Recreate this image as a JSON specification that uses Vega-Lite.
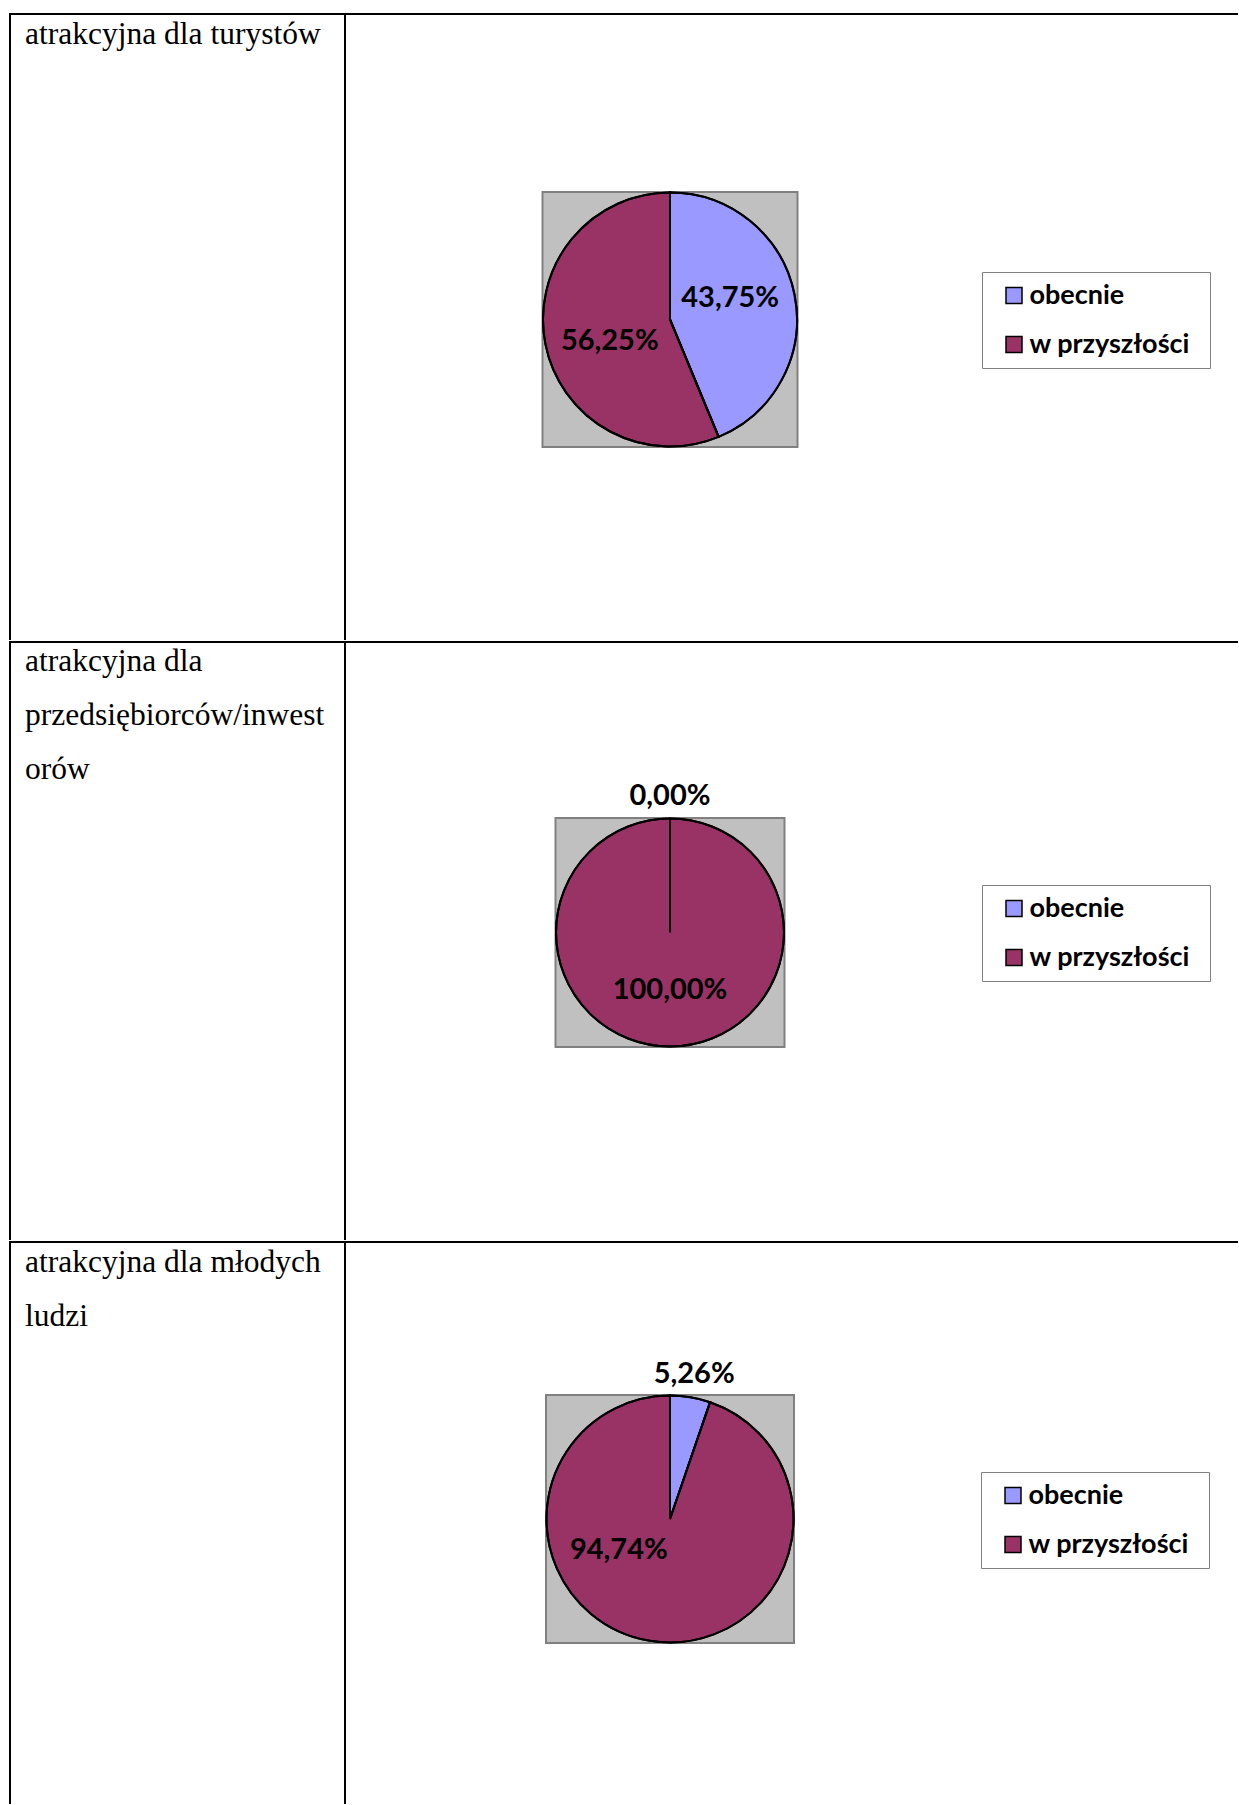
{
  "$schema": "https://vega.github.io/schema/vega-lite/v6.json",
  "padding": {"left": 9, "top": 13, "right": 0, "bottom": 0},
  "background": "white",
  "spacing": 0,
  "resolve": {"scale": {"color": "independent", "theta": "independent"}, "legend": {"color": "independent"}},
  "config": {
    "view": {"stroke": "black", "strokeWidth": 2},
    "concat": {"spacing": 0},
    "locale": {"number": {"decimal": ",", "thousands": " ", "grouping": [3], "currency": ["", " zł"]}},
    "legend": {
      "orient": "none",
      "padding": 10,
      "symbolType": "square",
      "symbolSize": 256,
      "symbolStrokeColor": "black",
      "symbolStrokeWidth": 1.5,
      "symbolOpacity": 1,
      "symbolOffset": 8.5,
      "labelOffset": 2,
      "labelFont": "Lato",
      "labelFontWeight": "bold",
      "labelFontSize": 27,
      "labelColor": "black",
      "labelLimit": 400,
      "rowPadding": 21,
      "strokeColor": "#808080",
      "fillColor": "white",
      "titleOrient": "right",
      "titlePadding": 10,
      "titleFontSize": 26
    }
  },
  "datasets": {
    "turysci": [
      {"status": "obecnie", "value": 0.4375},
      {"status": "w przyszłości", "value": 0.5625}
    ],
    "inwestorzy": [
      {"status": "obecnie", "value": 0},
      {"status": "w przyszłości", "value": 1}
    ],
    "mlodzi": [
      {"status": "obecnie", "value": 0.0526},
      {"status": "w przyszłości", "value": 0.9474}
    ]
  },
  "vconcat": [
    {
      "bounds": "flush",
      "spacing": 0,
      "resolve": {"scale": {"color": "independent", "theta": "independent"}, "legend": {"color": "independent"}},
      "hconcat": [
        {
          "width": 335,
          "height": 626,
          "view": {"stroke": "black", "strokeWidth": 2, "strokeDash": [961, 335, 626]},
          "data": {"values": [{"tekst": "atrakcyjna dla turystów"}]},
          "mark": {"type": "text", "align": "left", "baseline": "alphabetic", "font": "Liberation Serif", "fontSize": 31.5, "lineBreak": "\n", "lineHeight": 54, "color": "black"},
          "encoding": {"text": {"field": "tekst", "type": "nominal"}, "x": {"value": 15}, "y": {"value": 29.5}}
        },
        {
          "width": 650,
          "height": 611,
          "view": {"stroke": "black", "strokeWidth": 2, "strokeDash": [650, 5000]},
          "data": {"name": "turysci"},
          "layer": [
            {
              "data": {"values": [{"ramka": "obszar"}]},
              "mark": {"type": "point", "shape": "square", "size": 65025, "filled": true, "fill": "#C0C0C0", "stroke": "#808080", "strokeWidth": 2, "opacity": 1}
            },
            {
              "mark": {"type": "arc", "outerRadius": 127, "stroke": "black", "strokeWidth": 2},
              "encoding": {
                "theta": {"field": "value", "type": "quantitative", "stack": true},
                "color": {
                  "field": "status", "type": "nominal",
                  "scale": {"domain": ["obecnie", "w przyszłości"], "range": ["#9999FF", "#993366"]},
                  "legend": {"title": " ", "legendX": 637, "legendY": 258}
                }
              }
            },
            {
              "mark": {"type": "arc", "outerRadius": 127, "filled": false, "color": "black", "strokeWidth": 2},
              "encoding": {
                "theta": {"field": "value", "type": "quantitative", "stack": true},
                "detail": {"field": "status", "type": "nominal"}
              }
            },
            {
              "mark": {"type": "text", "radius": 64, "thetaOffset": -0.15, "font": "Lato", "fontWeight": "bold", "fontSize": 29, "color": "black", "align": "center", "baseline": "middle"},
              "encoding": {
                "theta": {"field": "value", "type": "quantitative", "stack": true},
                "detail": {"field": "status", "type": "nominal"},
                "text": {"condition": {"test": "datum.value < 0.1", "value": ""}, "field": "value", "type": "quantitative", "format": ".2%"}
              }
            },
            {
              "mark": {"type": "text", "radius": 150, "font": "Lato", "fontWeight": "bold", "fontSize": 29, "color": "black", "align": "center", "baseline": "middle"},
              "encoding": {
                "theta": {"field": "value", "type": "quantitative", "stack": true},
                "detail": {"field": "status", "type": "nominal"},
                "text": {"condition": {"test": "datum.value >= 0.1", "value": ""}, "field": "value", "type": "quantitative", "format": ".2%"}
              }
            }
          ]
        },
        {
          "width": 243,
          "height": 626,
          "view": {"stroke": "black", "strokeWidth": 2, "strokeDash": [243, 5000]},
          "data": {"values": []},
          "mark": "point"
        }
      ]
    },
    {
      "bounds": "flush",
      "spacing": 0,
      "resolve": {"scale": {"color": "independent", "theta": "independent"}, "legend": {"color": "independent"}},
      "hconcat": [
        {
          "width": 335,
          "height": 598,
          "view": {"stroke": "black", "strokeWidth": 2, "strokeDash": [933, 335, 598]},
          "data": {"values": [{"tekst": "atrakcyjna dla\nprzedsiębiorców/inwest\norów"}]},
          "mark": {"type": "text", "align": "left", "baseline": "alphabetic", "font": "Liberation Serif", "fontSize": 31.5, "lineBreak": "\n", "lineHeight": 54, "color": "black"},
          "encoding": {"text": {"field": "tekst", "type": "nominal"}, "x": {"value": 15}, "y": {"value": 29}}
        },
        {
          "width": 650,
          "height": 581,
          "view": {"stroke": "black", "strokeWidth": 2, "strokeDash": [650, 5000]},
          "data": {"name": "inwestorzy"},
          "layer": [
            {
              "data": {"values": [{"ramka": "obszar"}]},
              "mark": {"type": "point", "shape": "square", "size": 52441, "filled": true, "fill": "#C0C0C0", "stroke": "#808080", "strokeWidth": 2, "opacity": 1}
            },
            {
              "mark": {"type": "arc", "outerRadius": 114, "stroke": "black", "strokeWidth": 2},
              "encoding": {
                "theta": {"field": "value", "type": "quantitative", "stack": true},
                "color": {
                  "field": "status", "type": "nominal",
                  "scale": {"domain": ["obecnie", "w przyszłości"], "range": ["#9999FF", "#993366"]},
                  "legend": {"title": " ", "legendX": 637, "legendY": 243}
                }
              }
            },
            {
              "mark": {"type": "arc", "outerRadius": 114, "filled": false, "color": "black", "strokeWidth": 2},
              "encoding": {
                "theta": {"field": "value", "type": "quantitative", "stack": true},
                "detail": {"field": "status", "type": "nominal"}
              }
            },
            {
              "mark": {"type": "text", "radius": 57, "font": "Lato", "fontWeight": "bold", "fontSize": 29, "color": "black", "align": "center", "baseline": "middle"},
              "encoding": {
                "theta": {"field": "value", "type": "quantitative", "stack": true},
                "detail": {"field": "status", "type": "nominal"},
                "text": {"condition": {"test": "datum.value < 0.1", "value": ""}, "field": "value", "type": "quantitative", "format": ".2%"}
              }
            },
            {
              "mark": {"type": "text", "radius": 137, "font": "Lato", "fontWeight": "bold", "fontSize": 29, "color": "black", "align": "center", "baseline": "middle"},
              "encoding": {
                "theta": {"field": "value", "type": "quantitative", "stack": true},
                "detail": {"field": "status", "type": "nominal"},
                "text": {"condition": {"test": "datum.value >= 0.1", "value": ""}, "field": "value", "type": "quantitative", "format": ".2%"}
              }
            }
          ]
        },
        {
          "width": 243,
          "height": 598,
          "view": {"stroke": "black", "strokeWidth": 2, "strokeDash": [243, 5000]},
          "data": {"values": []},
          "mark": "point"
        }
      ]
    },
    {
      "bounds": "flush",
      "spacing": 0,
      "resolve": {"scale": {"color": "independent", "theta": "independent"}, "legend": {"color": "independent"}},
      "hconcat": [
        {
          "width": 335,
          "height": 562,
          "view": {"stroke": "black", "strokeWidth": 2, "strokeDash": [897, 335, 562]},
          "data": {"values": [{"tekst": "atrakcyjna dla młodych\nludzi"}]},
          "mark": {"type": "text", "align": "left", "baseline": "alphabetic", "font": "Liberation Serif", "fontSize": 31.5, "lineBreak": "\n", "lineHeight": 54, "color": "black"},
          "encoding": {"text": {"field": "tekst", "type": "nominal"}, "x": {"value": 15}, "y": {"value": 30}}
        },
        {
          "width": 650,
          "height": 554,
          "view": {"stroke": "black", "strokeWidth": 2, "strokeDash": [650, 5000]},
          "data": {"name": "mlodzi"},
          "layer": [
            {
              "data": {"values": [{"ramka": "obszar"}]},
              "mark": {"type": "point", "shape": "square", "size": 61504, "filled": true, "fill": "#C0C0C0", "stroke": "#808080", "strokeWidth": 2, "opacity": 1}
            },
            {
              "mark": {"type": "arc", "outerRadius": 123.5, "stroke": "black", "strokeWidth": 2},
              "encoding": {
                "theta": {"field": "value", "type": "quantitative", "stack": true},
                "color": {
                  "field": "status", "type": "nominal",
                  "scale": {"domain": ["obecnie", "w przyszłości"], "range": ["#9999FF", "#993366"]},
                  "legend": {"title": " ", "legendX": 636, "legendY": 230}
                }
              }
            },
            {
              "mark": {"type": "arc", "outerRadius": 123.5, "filled": false, "color": "black", "strokeWidth": 2},
              "encoding": {
                "theta": {"field": "value", "type": "quantitative", "stack": true},
                "detail": {"field": "status", "type": "nominal"}
              }
            },
            {
              "mark": {"type": "text", "radius": 60, "thetaOffset": 0.857, "font": "Lato", "fontWeight": "bold", "fontSize": 29, "color": "black", "align": "center", "baseline": "middle"},
              "encoding": {
                "theta": {"field": "value", "type": "quantitative", "stack": true},
                "detail": {"field": "status", "type": "nominal"},
                "text": {"condition": {"test": "datum.value < 0.1", "value": ""}, "field": "value", "type": "quantitative", "format": ".2%"}
              }
            },
            {
              "mark": {"type": "text", "radius": 147, "font": "Lato", "fontWeight": "bold", "fontSize": 29, "color": "black", "align": "center", "baseline": "middle"},
              "encoding": {
                "theta": {"field": "value", "type": "quantitative", "stack": true},
                "detail": {"field": "status", "type": "nominal"},
                "text": {"condition": {"test": "datum.value >= 0.1", "value": ""}, "field": "value", "type": "quantitative", "format": ".2%"}
              }
            }
          ]
        },
        {
          "width": 243,
          "height": 562,
          "view": {"stroke": "black", "strokeWidth": 2, "strokeDash": [243, 5000]},
          "data": {"values": []},
          "mark": "point"
        }
      ]
    }
  ]
}
